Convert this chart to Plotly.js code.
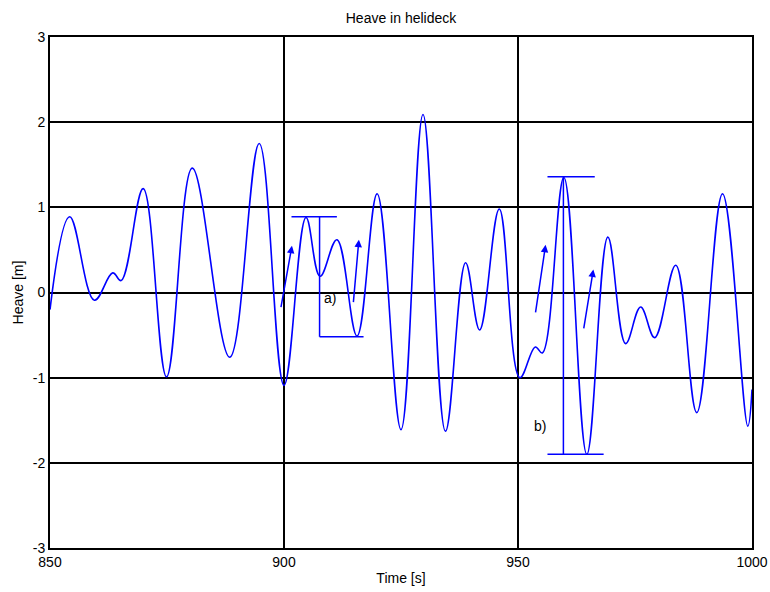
<!DOCTYPE html>
<html>
<head>
<meta charset="utf-8">
<script src="https://cdn.plot.ly/plotly-3.0.1.min.js"></script>
<style>html,body{margin:0;padding:0;background:#fff;}#chart{width:770px;height:592px;}</style>
</head>
<body>
<div id="chart"></div>
<script>
// Heave time series: extrema
const time = [850, 854.2, 859.5, 863.4, 865.2, 869.9, 874.9, 880.4, 888.4, 894.7, 900.0, 904.7, 907.7, 911.3, 915.6, 919.9, 925.0, 929.7, 934.5, 938.8, 941.8, 946.0, 950.4, 953.7, 955.2, 959.8, 964.7, 969.2, 973.0, 976.2, 979.2, 983.7, 988.2, 993.7, 999.1, 1000];
const heave = [-0.2, 0.89, -0.09, 0.23, 0.14, 1.22, -0.99, 1.46, -0.76, 1.75, -1.09, 0.88, 0.19, 0.62, -0.51, 1.16, -1.61, 2.09, -1.63, 0.35, -0.44, 0.98, -1.0, -0.64, -0.71, 1.35, -1.9, 0.65, -0.6, -0.17, -0.53, 0.32, -1.41, 1.16, -1.57, -1.14];

const xTicks = [850, 900, 950, 1000];
const yTicks = [-3, -2, -1, 0, 1, 2, 3];

// Arrows: tail and head positions
const arrowTailT = [899.3, 914.8, 953.7, 964.0];
const arrowTailY = [-0.19, -0.13, -0.25, -0.44];
const arrowHeadT = [901.7, 916.0, 955.9, 966.1];
const arrowHeadY = [0.55, 0.62, 0.56, 0.27];

// Brackets a) and b)
const bracketA = {topT0: 901.6, topT1: 911.3, topY: 0.89, vertT: 907.6, botT1: 917.0, botY: -0.52};
const bracketB = {topT0: 956.3, topT1: 966.4, topY: 1.36, vertT: 959.7, botT0: 956.3, botT1: 968.3, botY: -1.9};

const labelText = ['a)', 'b)'];
const labelT = [909.9, 954.6];
const labelY = [-0.06, -1.57];

const blue = '#0000ff';
const font = 'Liberation Sans, Arial, sans-serif';
const fs = 14;

const trace = {
  x: time, y: heave, type: 'scatter', mode: 'lines',
  line: {color: blue, width: 1.6, shape: 'spline', smoothing: 1.1},
  hoverinfo: 'skip'
};

function seg(x0, y0, x1, y1) {
  return {type: 'line', xref: 'x', yref: 'y', x0: x0, y0: y0, x1: x1, y1: y1,
          line: {color: blue, width: 1.5}};
}
const shapes = [
  seg(bracketA.topT0, bracketA.topY, bracketA.topT1, bracketA.topY),
  seg(bracketA.vertT, bracketA.topY, bracketA.vertT, bracketA.botY),
  seg(bracketA.vertT, bracketA.botY, bracketA.botT1, bracketA.botY),
  seg(bracketB.topT0, bracketB.topY, bracketB.topT1, bracketB.topY),
  seg(bracketB.vertT, bracketB.topY, bracketB.vertT, bracketB.botY),
  seg(bracketB.botT0, bracketB.botY, bracketB.botT1, bracketB.botY)
];

const annotations = [];
for (let i = 0; i < arrowHeadT.length; i++) {
  annotations.push({
    x: arrowHeadT[i], y: arrowHeadY[i], ax: arrowTailT[i], ay: arrowTailY[i],
    xref: 'x', yref: 'y', axref: 'x', ayref: 'y', text: '', showarrow: true,
    arrowhead: 2, arrowsize: 1, arrowwidth: 1.5, arrowcolor: blue
  });
}
for (let i = 0; i < labelText.length; i++) {
  annotations.push({
    x: labelT[i], y: labelY[i], xref: 'x', yref: 'y', text: labelText[i],
    showarrow: false, font: {family: font, size: fs, color: '#000'}
  });
}

const layout = {
  width: 770, height: 592,
  margin: {l: 50, r: 18, t: 37, b: 44},
  paper_bgcolor: '#fff', plot_bgcolor: '#fff',
  showlegend: false,
  title: {text: 'Heave in helideck', font: {family: font, size: fs, color: '#000'},
          x: 0.5, xref: 'paper', y: 0.969, yref: 'container', yanchor: 'middle'},
  xaxis: {
    range: [850, 1000], tickvals: xTicks, ticktext: xTicks.map(String),
    showgrid: true, gridcolor: '#000', gridwidth: 2,
    zeroline: false, showline: true, mirror: true, linecolor: '#000', linewidth: 2,
    ticks: '', tickfont: {family: font, size: fs, color: '#000'},
    title: {text: 'Time [s]', font: {family: font, size: fs, color: '#000'}, standoff: 4},
    automargin: false, fixedrange: true
  },
  yaxis: {
    range: [-3, 3], tickvals: yTicks, ticktext: yTicks.map(String),
    showgrid: true, gridcolor: '#000', gridwidth: 2,
    zeroline: false, showline: true, mirror: true, linecolor: '#000', linewidth: 2,
    ticks: '', tickfont: {family: font, size: fs, color: '#000'},
    title: {text: 'Heave [m]', font: {family: font, size: fs, color: '#000'}, standoff: 6},
    automargin: false, fixedrange: true
  },
  shapes: shapes,
  annotations: annotations
};

Plotly.newPlot('chart', [trace], layout, {staticPlot: true, displayModeBar: false});
</script>
</body>
</html>
